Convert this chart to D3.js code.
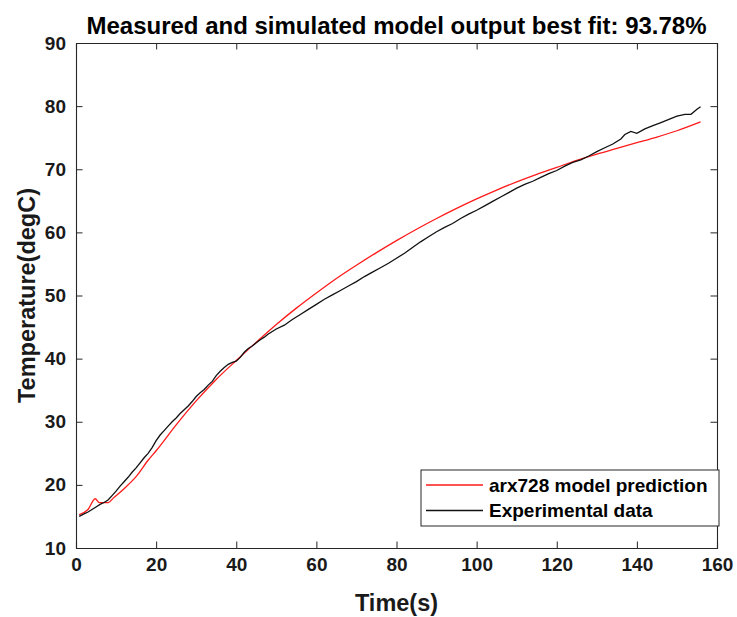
<!DOCTYPE html>
<html><head><meta charset="utf-8">
<script src="https://cdn.jsdelivr.net/npm/d3@7"></script>
<style>html,body{margin:0;padding:0;background:#fff;}svg{display:block;}</style>
</head><body>
<svg id="c" width="737" height="617"></svg>
<script>
const titleText = "Measured and simulated model output best fit: 93.78%";
const xLabel = "Time(s)";
const yLabel = "Temperature(degC)";
const seriesNames = ["arx728 model prediction", "Experimental data"];
const xTicks = [0, 20, 40, 60, 80, 100, 120, 140, 160];
const yTicks = [10, 20, 30, 40, 50, 60, 70, 80, 90];

const modT = [0.8, 3, 4.8, 5.8, 7, 8.1, 9.3, 12, 15, 18, 20, 25, 30, 35, 40, 45, 50, 55, 60, 65, 70, 75, 80, 85, 90, 95, 100, 105, 110, 115, 120, 125, 130, 135, 140, 145, 150, 155.9];
const modY = [15.3, 16.1, 17.8, 17.2, 17.2, 17.2, 17.9, 19.4, 21.3, 23.9, 25.4, 29.5, 33.3, 36.7, 39.7, 42.6, 45.4, 48.0, 50.4, 52.7, 54.8, 56.8, 58.7, 60.5, 62.2, 63.8, 65.3, 66.7, 68.0, 69.2, 70.3, 71.4, 72.4, 73.3, 74.2, 75.1, 76.1, 77.5];

const expT = [0.8, 2, 3, 4, 5, 6, 7, 8, 9, 10, 11, 12, 13, 14, 15, 16, 17, 18, 19, 20, 21, 22, 23, 24, 25, 26, 27, 28, 29, 30, 31, 32, 33, 34, 35, 36, 37, 38, 39, 40, 41, 42, 43, 44, 45, 46, 47, 48, 49, 50, 52, 54, 56, 58, 60, 62, 64, 66, 68, 70, 72, 74, 76, 78, 80, 82, 84, 86, 88, 90, 92, 94, 96, 98, 100, 102, 104, 106, 108, 110, 112, 114, 116, 118, 120, 122, 124, 126, 128, 130, 132, 134, 136, 137, 138.5, 140, 142, 144, 146, 148, 150, 152, 153.5, 155, 155.9];
const expY = [15.0, 15.4, 15.7, 16.1, 16.5, 16.9, 17.2, 17.6, 18.3, 19.0, 19.8, 20.5, 21.2, 22.0, 22.7, 23.5, 24.3, 25.0, 25.9, 27.0, 27.9, 28.6, 29.3, 30.0, 30.6, 31.3, 31.9, 32.5, 33.2, 34.0, 34.6, 35.1, 35.8, 36.4, 37.3, 38.0, 38.6, 39.1, 39.4, 39.6, 40.2, 41.0, 41.6, 42.0, 42.5, 43.0, 43.4, 43.9, 44.3, 44.7, 45.3, 46.2, 47.0, 47.8, 48.6, 49.4, 50.1, 50.8, 51.5, 52.2, 53.0, 53.7, 54.4, 55.1, 55.9, 56.7, 57.6, 58.5, 59.3, 60.1, 60.8, 61.4, 62.2, 62.9, 63.5, 64.2, 64.9, 65.6, 66.3, 67.0, 67.6, 68.1, 68.7, 69.3, 69.8, 70.5, 71.1, 71.5, 72.1, 72.8, 73.4, 74.0, 74.8, 75.5, 76.0, 75.7, 76.4, 76.9, 77.4, 77.9, 78.4, 78.7, 78.7, 79.5, 79.9];

const W = 737, H = 617;
const m = {left: 76, right: 717, top: 43, bottom: 548};
const axisColor = "#262626";
const svg = d3.select("#c");

const x = d3.scaleLinear().domain([0, 160]).range([m.left, m.right]);
const y = d3.scaleLinear().domain([10, 90]).range([m.bottom, m.top]);

const font = "'Liberation Sans', Arial, Helvetica, sans-serif";

// lines
const modData = modT.map((t, i) => [t, modY[i]]);
const expData = expT.map((t, i) => [t, expY[i]]);

svg.append("path").datum(modData)
  .attr("d", d3.line().x(d => x(d[0])).y(d => y(d[1])).curve(d3.curveMonotoneX))
  .attr("fill", "none").attr("stroke", "#ff1a1a").attr("stroke-width", 1.3);
svg.append("path").datum(expData)
  .attr("d", d3.line().x(d => x(d[0])).y(d => y(d[1])))
  .attr("fill", "none").attr("stroke", "#111").attr("stroke-width", 1.3);

// axes
const tickLen = 6.5;
const bottomAxis = d3.axisBottom(x).tickValues(xTicks).tickSize(-tickLen).tickPadding(10).tickFormat(d3.format("d"));
const leftAxis = d3.axisLeft(y).tickValues(yTicks).tickSize(-tickLen).tickPadding(10).tickFormat(d3.format("d"));
const topAxis = d3.axisTop(x).tickValues(xTicks).tickSize(-tickLen).tickFormat("");
const rightAxis = d3.axisRight(y).tickValues(yTicks).tickSize(-tickLen).tickFormat("");

function styleAxis(g) {
  g.select(".domain").attr("stroke", axisColor).attr("stroke-width", 1.1);
  g.selectAll(".tick line").attr("stroke", axisColor).attr("stroke-width", 1);
  g.selectAll(".tick text").attr("fill", "#1a1a1a").style("font-family", font)
    .style("font-weight", "bold").style("font-size", "19px");
}
svg.append("g").attr("transform", `translate(0,${m.bottom})`).call(bottomAxis).call(styleAxis);
svg.append("g").attr("transform", `translate(${m.left},0)`).call(leftAxis).call(styleAxis);
svg.append("g").attr("transform", `translate(0,${m.top})`).call(topAxis).call(styleAxis);
svg.append("g").attr("transform", `translate(${m.right},0)`).call(rightAxis).call(styleAxis);

// title & labels
svg.append("text").attr("x", (m.left + m.right) / 2).attr("y", 34).attr("text-anchor", "middle")
  .style("font-family", font).style("font-weight", "bold").style("font-size", "24px").attr("fill", "#000")
  .text(titleText);
svg.append("text").attr("x", (m.left + m.right) / 2).attr("y", 611).attr("text-anchor", "middle")
  .style("font-family", font).style("font-weight", "bold").style("font-size", "23.5px").attr("fill", "#1a1a1a")
  .text(xLabel);
svg.append("text").attr("transform", `translate(35,${(m.top + m.bottom) / 2}) rotate(-90)`).attr("text-anchor", "middle")
  .style("font-family", font).style("font-weight", "bold").style("font-size", "23.5px").attr("fill", "#1a1a1a")
  .text(yLabel);

// legend
const lg = svg.append("g");
lg.append("rect").attr("x", 421).attr("y", 470).attr("width", 298).attr("height", 56)
  .attr("fill", "#fff").attr("stroke", axisColor).attr("stroke-width", 1);
const legColors = ["#ff1a1a", "#111"];
seriesNames.forEach((name, i) => {
  const yy = 485 + i * 25.5;
  lg.append("line").attr("x1", 426).attr("x2", 483).attr("y1", yy).attr("y2", yy)
    .attr("stroke", legColors[i]).attr("stroke-width", 1.3);
  lg.append("text").attr("x", 489).attr("y", yy).attr("dy", "0.35em")
    .style("font-family", font).style("font-weight", "bold").style("font-size", "19px").attr("fill", "#000")
    .text(name);
});
</script>
</body></html>
